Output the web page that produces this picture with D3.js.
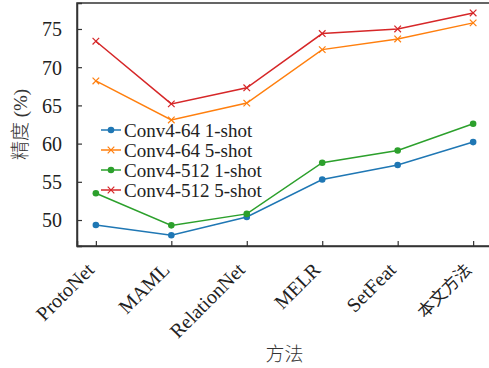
<!DOCTYPE html>
<html lang="zh">
<head>
<meta charset="UTF-8">
<title>精度对比</title>
<script src="https://d3js.org/d3.v7.min.js"></script>
<style>
    body { margin: 0; background: #fff; }
    svg { font-family: "Liberation Serif", "Noto Sans CJK SC", serif; }
    .domain { stroke: #333; stroke-width: 1.5; }
    .tick line { stroke: #333; stroke-width: 1.2; }
    .tick text { fill: #222; font-size: 20px; }
</style>
</head>
<body>
<div id="chart"></div>
<script>
    // data
    const methods = ["ProtoNet", "MAML", "RelationNet", "MELR", "SetFeat", "本文方法"];
    const seriesNames = ["Conv4-64 1-shot", "Conv4-64 5-shot", "Conv4-512 1-shot", "Conv4-512 5-shot"];
    const conv64_1shot  = [49.35, 48.0, 50.4, 55.3, 57.2, 60.2];
    const conv64_5shot  = [68.2, 63.1, 65.3, 72.3, 73.7, 75.8];
    const conv512_1shot = [53.5, 49.3, 50.8, 57.5, 59.1, 62.6];
    const conv512_5shot = [73.4, 65.2, 67.3, 74.4, 75.0, 77.1];
    const yTicks = [50, 55, 60, 65, 70, 75];

    const colors = ["#1f77b4", "#ff7f0e", "#2ca02c", "#d62728"];
    const markers = ["circle", "x", "circle", "x"];
    const allSeries = [conv64_1shot, conv64_5shot, conv512_1shot, conv512_5shot];

    const width = 489, height = 368;
    const margin = { left: 77, top: 3, bottom: 122 };
    const plotW = 415;                 // right edge falls outside the picture
    const plotH = height - margin.top - margin.bottom;

    const svg = d3.select("#chart").append("svg")
        .attr("width", width)
        .attr("height", height)
        .style("overflow", "hidden");

    const g = svg.append("g").attr("transform", `translate(${margin.left},${margin.top})`);

    const x = d3.scaleLinear().domain([-0.25, methods.length - 1 + 0.25]).range([0, plotW]);
    const y = d3.scaleLinear().domain([46.6, 78.4]).range([plotH, 0]);

    // frame: top and right spines
    g.append("rect")
        .attr("width", plotW).attr("height", plotH)
        .attr("fill", "none").attr("stroke", "#333").attr("stroke-width", 1.5);

    // y axis
    const yAxis = g.append("g")
        .call(d3.axisLeft(y).tickValues(yTicks).tickSize(-5).tickPadding(15))
        .attr("font-family", null).attr("font-size", null);
    yAxis.selectAll(".tick text").attr("dy", "0.34em");

    // x axis
    const xAxis = g.append("g")
        .attr("transform", `translate(0,${plotH})`)
        .call(d3.axisBottom(x).tickValues(d3.range(methods.length)).tickSize(-5)
            .tickFormat(i => methods[i]))
        .attr("font-family", null).attr("font-size", null);
    xAxis.selectAll(".tick text")
        .attr("text-anchor", "end")
        .attr("transform", "translate(-1,25) rotate(-45)")
        .attr("dy", "0")
        .attr("y", 0)
        .style("font-size", (d, i) => /[\u4e00-\u9fff]/.test(methods[i]) ? "17px" : null);

    // lines
    const line = d3.line().x((d, i) => x(i)).y(d => y(d));

    allSeries.forEach((vals, s) => {
        g.append("path")
            .datum(vals)
            .attr("fill", "none")
            .attr("stroke", colors[s])
            .attr("stroke-width", 1.5)
            .attr("d", line);

        const pts = g.append("g");
        vals.forEach((v, i) => drawMarker(pts, markers[s], x(i), y(v), colors[s]));
    });

    function drawMarker(sel, type, cx, cy, color) {
        if (type === "circle") {
            sel.append("circle").attr("cx", cx).attr("cy", cy).attr("r", 3.3).attr("fill", color);
        } else {
            const r = 3.3;
            sel.append("path")
                .attr("d", `M${cx - r},${cy - r}L${cx + r},${cy + r}M${cx - r},${cy + r}L${cx + r},${cy - r}`)
                .attr("stroke", color).attr("stroke-width", 1.2).attr("fill", "none");
        }
    }

    // legend
    const legend = g.append("g").attr("transform", "translate(24,127)");
    seriesNames.forEach((name, s) => {
        const row = legend.append("g").attr("transform", `translate(0,${s * 20})`);
        row.append("line").attr("x1", 0).attr("x2", 20)
            .attr("stroke", colors[s]).attr("stroke-width", 1.5);
        drawMarker(row, markers[s], 10, 0, colors[s]);
        row.append("text")
            .attr("x", 23).attr("dy", "0.35em")
            .attr("font-size", 19).attr("fill", "#222")
            .text(name);
    });

    // axis titles
    svg.append("text")
        .attr("transform", `translate(20,${margin.top + plotH / 2}) rotate(-90)`)
        .attr("text-anchor", "middle").attr("dy", "0.35em")
        .attr("font-size", 19).attr("fill", "#333")
        .style("font-weight", 300)
        .text("精度 (%)");

    svg.append("text")
        .attr("x", margin.left + plotW / 2).attr("y", 361)
        .attr("text-anchor", "middle")
        .attr("font-size", 19).attr("fill", "#333")
        .style("font-weight", 300)
        .text("方法");
</script>
</body>
</html>
